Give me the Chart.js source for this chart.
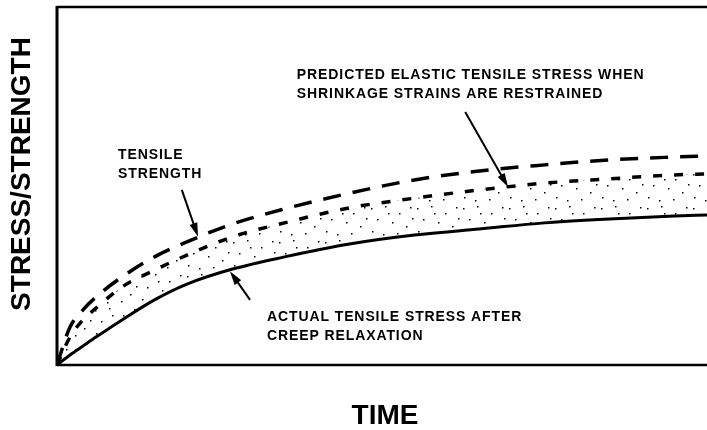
<!DOCTYPE html>
<html>
<head>
<meta charset="utf-8">
<script src="https://cdn.jsdelivr.net/npm/chart.js@4.4.1/dist/chart.umd.min.js"></script>
<style>
  html, body { margin: 0; padding: 0; background: #fff; }
  #wrap { width: 707px; height: 430px; }
</style>
</head>
<body>
<div id="wrap"><canvas id="chart" width="707" height="430"></canvas></div>
<script>
// time axis (arbitrary units, 0..100)
var time = [0, 2, 4, 6, 10, 15, 20, 27, 35, 45, 55, 65, 75, 85, 95, 100];

// stress / strength (arbitrary units, 0..100)
var actualStress = [0, 2.8, 5.3, 7.8, 12.6, 18.2, 22.6, 26.8, 30.2, 33.8, 36.3, 38.0, 39.7, 40.8, 41.6, 41.9];
var tensileStrength = [0, 10.6, 15.4, 19.0, 24.6, 30.2, 34.4, 39.4, 43.6, 48.0, 51.7, 54.2, 55.9, 57.3, 58.1, 58.4];
var predictedStress = [0, 7.8, 12.6, 15.9, 21.8, 26.5, 30.7, 35.8, 39.7, 43.9, 46.6, 48.9, 50.8, 52.0, 53.1, 53.4];

// callouts, in data units
var labels = [
  { lines: ["TENSILE", "STRENGTH"], x: 9.4, y: 58.7, from: [19.2, 48.9], to: [21.7, 35.8] },
  { lines: ["PREDICTED ELASTIC TENSILE STRESS WHEN", "SHRINKAGE STRAINS ARE RESTRAINED"], x: 36.9, y: 81.0, from: [62.8, 70.7], to: [69.4, 49.7] },
  { lines: ["ACTUAL TENSILE STRESS AFTER", "CREEP RELAXATION"], x: 32.3, y: 13.4, from: [29.7, 18.2], to: [26.6, 26.2] }
];

function toPoints(ys) {
  return time.map(function (t, i) { return { x: t, y: ys[i] }; });
}

// sparse speckle for the band between predicted and actual stress
function makeStipple() {
  var c = document.createElement("canvas");
  c.width = 46; c.height = 34;
  var g = c.getContext("2d");
  g.fillStyle = "#000";
  var dots = [[3, 4], [17, 2], [31, 9], [42, 3], [9, 15], [24, 18], [38, 22], [4, 27], [15, 30], [29, 29], [44, 14], [20, 9]];
  dots.forEach(function (d) { g.fillRect(d[0], d[1], 1.5, 1.5); });
  return g.createPattern(c, "repeat");
}

var extras = {
  id: "extras",
  afterDraw: function (chart) {
    var ctx = chart.ctx;
    var a = chart.chartArea;
    var xs = chart.scales.x, ys = chart.scales.y;
    ctx.save();
    ctx.strokeStyle = "#000";
    ctx.lineCap = "butt";
    // frame: left, top, bottom
    ctx.lineWidth = 3;
    ctx.beginPath(); ctx.moveTo(a.left, a.top - 1); ctx.lineTo(a.left, a.bottom + 1); ctx.stroke();
    ctx.lineWidth = 2.5;
    ctx.beginPath(); ctx.moveTo(a.left, a.top); ctx.lineTo(a.right, a.top); ctx.stroke();
    ctx.beginPath(); ctx.moveTo(a.left, a.bottom); ctx.lineTo(a.right, a.bottom); ctx.stroke();

    // callouts
    ctx.fillStyle = "#000";
    ctx.font = "bold 14px 'Liberation Sans', Arial, sans-serif";
    ctx.letterSpacing = "0.9px";
    ctx.textAlign = "left";
    ctx.textBaseline = "middle";
    labels.forEach(function (l) {
      var px = xs.getPixelForValue(l.x), py = ys.getPixelForValue(l.y);
      l.lines.forEach(function (s, i) { ctx.fillText(s, px, py + i * 19); });
      var x1 = xs.getPixelForValue(l.from[0]), y1 = ys.getPixelForValue(l.from[1]);
      var x2 = xs.getPixelForValue(l.to[0]), y2 = ys.getPixelForValue(l.to[1]);
      var ang = Math.atan2(y2 - y1, x2 - x1);
      ctx.lineWidth = 2;
      ctx.beginPath(); ctx.moveTo(x1, y1);
      ctx.lineTo(x2 - 10 * Math.cos(ang), y2 - 10 * Math.sin(ang)); ctx.stroke();
      ctx.beginPath();
      ctx.moveTo(x2, y2);
      ctx.lineTo(x2 - 14 * Math.cos(ang) + 4 * Math.sin(ang), y2 - 14 * Math.sin(ang) - 4 * Math.cos(ang));
      ctx.lineTo(x2 - 14 * Math.cos(ang) - 4 * Math.sin(ang), y2 - 14 * Math.sin(ang) + 4 * Math.cos(ang));
      ctx.closePath(); ctx.fill();
    });

    // axis titles
    ctx.letterSpacing = "0px";
    ctx.font = "bold 28px 'Liberation Sans', Arial, sans-serif";
    ctx.textAlign = "center";
    ctx.fillText("TIME", 385, 416);
    ctx.translate(22, 174);
    ctx.rotate(-Math.PI / 2);
    ctx.fillText("STRESS/STRENGTH", 0, 0);
    ctx.restore();
  }
};

var config = {
  type: "line",
  data: {
    datasets: [
      {
        label: "Actual tensile stress after creep relaxation",
        data: toPoints(actualStress),
        borderColor: "#000",
        borderWidth: 3,
        fill: false
      },
      {
        label: "Tensile strength",
        data: toPoints(tensileStrength),
        borderColor: "#000",
        borderWidth: 3.5,
        borderDash: [18, 12],
        fill: false
      },
      {
        label: "Predicted elastic tensile stress",
        data: toPoints(predictedStress),
        borderColor: "#000",
        borderWidth: 3.5,
        borderDash: [9, 12],
        backgroundColor: makeStipple(),
        fill: "-2"
      }
    ]
  },
  options: {
    responsive: false,
    animation: false,
    layout: { padding: { left: 57, top: 7, right: 0, bottom: 65 } },
    elements: { point: { radius: 0 }, line: { cubicInterpolationMode: "monotone" } },
    scales: {
      x: { type: "linear", min: 0, max: 100, display: false },
      y: { type: "linear", min: 0, max: 100, display: false }
    },
    plugins: { legend: { display: false }, tooltip: { enabled: false } }
  },
  plugins: [extras]
};

new Chart(document.getElementById("chart").getContext("2d"), config);
</script>
</body>
</html>
